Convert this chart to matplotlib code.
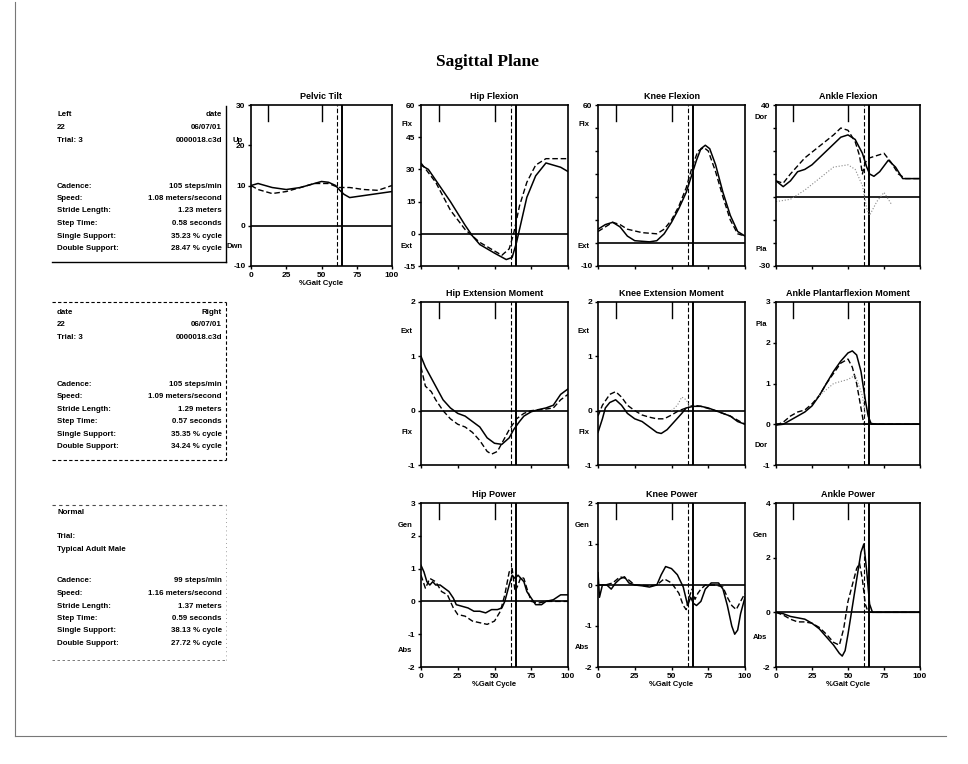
import matplotlib
matplotlib.use("Agg")
import matplotlib.pyplot as plt
from matplotlib.lines import Line2D

plt.rcParams['font.family'] = ['Liberation Sans', 'DejaVu Sans']

W, H = 968, 764

# ---------------- data ----------------
title = "Sagittal Plane"
gait_ticks = [0, 25, 50, 75, 100]
toe_off_left = 64.5
toe_off_norm = 61
event_marks = [12, 50]

# Pelvic Tilt
pel_x_l = [0, 5, 15, 25, 35, 45, 50, 55, 60, 63, 66, 70, 80, 90, 100]
pel_y_l = [10, 10.5, 9.5, 9, 9.5, 10.5, 11, 10.8, 10, 8.8, 7.8, 7, 7.5, 8, 8.5]
pel_x_r = [0, 5, 15, 25, 35, 45, 55, 62, 70, 80, 90, 100]
pel_y_r = [10, 9, 8, 8.5, 9.5, 10.5, 10.5, 9.5, 9.5, 9, 8.8, 10]

# Hip Flexion
hipf_x_l = [0, 5, 10, 20, 30, 35, 40, 50, 58, 62, 65, 68, 72, 78, 85, 90, 95, 100]
hipf_y_l = [32, 30, 25, 15, 4, -1, -5, -9, -12, -11, -4, 5, 17, 27, 33, 32, 31, 29]
hipf_x_r = [0, 10, 20, 30, 40, 50, 55, 60, 63, 67, 72, 78, 85, 92, 100]
hipf_y_r = [33, 24, 11, 2, -4, -8, -10, -7, 0, 13, 24, 32, 35, 35, 35]

# Knee Flexion
knf_x_l = [0, 5, 10, 15, 20, 25, 35, 40, 45, 50, 55, 60, 63, 67, 70, 73, 76, 80, 85, 90, 95, 100]
knf_y_l = [6, 8, 9, 7, 3, 1, 0.5, 1, 4, 9, 15, 22, 28, 36, 41, 42.5, 41, 34, 22, 12, 5, 3]
knf_x_r = [0, 5, 10, 15, 20, 30, 40, 45, 50, 55, 60, 64, 68, 72, 75, 80, 85, 90, 95, 100]
knf_y_r = [5, 7, 9, 8, 6, 4.5, 4, 6, 10, 16, 24, 33, 40, 41.5, 40, 31, 20, 10, 4, 3]

# Ankle Flexion
ankf_x_l = [0, 5, 10, 15, 20, 25, 35, 45, 50, 55, 60, 63, 65, 68, 72, 78, 83, 88, 92, 100]
ankf_y_l = [7, 4.5, 7, 11, 12, 14, 20, 26, 27, 25, 19, 13, 10, 9, 11, 16, 13, 8, 8, 8]
ankf_x_r = [0, 5, 10, 20, 30, 40, 45, 50, 55, 58, 60, 62, 65, 70, 75, 80, 85, 90, 100]
ankf_y_r = [7, 6, 10, 17, 22, 27, 30, 29, 24, 18, 10, 15, 17, 18, 19, 15, 10, 8, 8]
ankf_x_n = [0, 10, 20, 30, 40, 50, 55, 60, 63, 65, 70, 75, 80]
ankf_y_n = [-2, -1, 3, 8, 13, 14, 12, 5, -5, -8, -2, 2, -3]

# Hip Extension Moment
hipm_x_l = [0, 3, 7, 10, 15, 20, 25, 30, 35, 40, 45, 50, 55, 60, 63, 67, 70, 75, 80, 85, 90, 95, 100]
hipm_y_l = [1.0, 0.8, 0.6, 0.45, 0.2, 0.05, -0.05, -0.1, -0.2, -0.3, -0.5, -0.6, -0.62, -0.5,
            -0.35, -0.2, -0.1, -0.02, 0.02, 0.05, 0.1, 0.3, 0.4]
hipm_x_r = [0, 3, 7, 10, 15, 20, 25, 30, 35, 40, 45, 48, 52, 55, 60, 65, 70, 75, 85, 90, 95, 100]
hipm_y_r = [0.8, 0.45, 0.35, 0.2, 0.0, -0.15, -0.25, -0.3, -0.4, -0.55, -0.75, -0.8, -0.75,
            -0.6, -0.35, -0.15, -0.05, 0.0, 0.03, 0.05, 0.2, 0.3]

# Knee Extension Moment
knm_x_l = [0, 3, 5, 8, 12, 16, 20, 25, 30, 35, 40, 43, 47, 52, 57, 60, 65, 70, 75, 80, 85, 90, 95, 100]
knm_y_l = [-0.4, -0.15, 0.05, 0.15, 0.2, 0.1, -0.05, -0.15, -0.2, -0.3, -0.4, -0.42, -0.35,
           -0.2, -0.05, 0.05, 0.08, 0.08, 0.05, 0.0, -0.05, -0.1, -0.2, -0.25]
knm_x_r = [0, 3, 8, 12, 16, 20, 25, 30, 35, 40, 45, 50, 55, 60, 65, 70, 80, 90, 100]
knm_y_r = [-0.1, 0.1, 0.3, 0.35, 0.25, 0.1, 0.0, -0.08, -0.12, -0.15, -0.15, -0.08, 0.0,
           0.05, 0.1, 0.08, 0.0, -0.1, -0.25]
knm_x_n = [50, 54, 57, 60, 63]
knm_y_n = [0.0, 0.1, 0.25, 0.2, 0.05]

# Ankle Plantarflexion Moment
ankm_x_l = [0, 5, 10, 15, 20, 25, 30, 35, 40, 45, 50, 53, 56, 59, 62, 64, 66, 70, 100]
ankm_y_l = [-0.02, 0.0, 0.1, 0.2, 0.3, 0.45, 0.7, 1.0, 1.3, 1.55, 1.75, 1.8, 1.7, 1.3, 0.6,
            0.2, 0.02, 0.0, 0.0]
ankm_x_r = [0, 5, 10, 15, 20, 25, 30, 35, 40, 45, 50, 53, 56, 59, 61, 63, 100]
ankm_y_r = [-0.02, 0.05, 0.2, 0.3, 0.35, 0.5, 0.7, 1.0, 1.25, 1.5, 1.6, 1.4, 1.0, 0.4, 0.0, 0.0, 0.0]
ankm_x_n = [30, 40, 50, 55, 60, 62]
ankm_y_n = [0.7, 1.0, 1.1, 1.2, 0.7, 0.2]

# Hip Power
hipp_x_l = [0, 2, 4, 6, 8, 10, 13, 16, 19, 22, 24, 28, 32, 36, 40, 44, 48, 52, 55, 57, 60, 62,
            64, 66, 68, 70, 72, 75, 78, 82, 85, 90, 95, 100]
hipp_y_l = [1.1, 0.9, 0.6, 0.5, 0.6, 0.5, 0.5, 0.4, 0.3, 0.1, -0.1, -0.15, -0.2, -0.3, -0.3,
            -0.35, -0.25, -0.25, -0.2, 0.0, 0.5, 0.8, 0.7, 0.8, 0.7, 0.6, 0.3, 0.1, -0.1, -0.1,
            0.0, 0.05, 0.2, 0.2]
hipp_x_r = [0, 3, 6, 10, 14, 18, 22, 25, 30, 35, 40, 45, 50, 54, 57, 60, 62, 64, 66, 68, 70,
            72, 75, 80, 85, 100]
hipp_y_r = [0.8, 0.4, 0.7, 0.6, 0.3, 0.2, -0.2, -0.4, -0.45, -0.6, -0.65, -0.7, -0.6, -0.3,
            0.2, 0.9, 1.0, 0.3, 0.5, 0.75, 0.7, 0.4, 0.0, -0.05, 0.0, 0.0]

# Knee Power
knp_x_l = [0, 1, 3, 6, 9, 12, 15, 18, 21, 25, 30, 35, 40, 43, 46, 50, 54, 58, 61, 63, 65, 67,
           70, 73, 77, 82, 85, 88, 91, 93, 95, 97, 100]
knp_y_l = [0.3, -0.3, 0.0, 0.0, -0.1, 0.05, 0.15, 0.2, 0.05, 0.0, -0.02, -0.05, 0.0, 0.25,
           0.45, 0.4, 0.25, -0.05, -0.5, -0.3, -0.45, -0.5, -0.4, -0.1, 0.05, 0.05, -0.1, -0.5,
           -1.0, -1.2, -1.1, -0.7, -0.3]
knp_x_r = [0, 5, 10, 15, 20, 25, 35, 40, 45, 50, 55, 58, 60, 62, 64, 66, 68, 70, 73, 80, 85,
           88, 91, 94, 97, 100]
knp_y_r = [0.0, 0.0, 0.05, 0.2, 0.15, 0.0, -0.02, 0.0, 0.15, 0.05, -0.2, -0.5, -0.6, -0.3,
           -0.1, -0.35, -0.2, -0.1, 0.0, 0.0, -0.05, -0.3, -0.5, -0.6, -0.4, -0.2]

# Ankle Power
ankp_x_l = [0, 5, 10, 15, 20, 25, 30, 35, 40, 44, 46, 48, 50, 53, 56, 59, 61, 63, 65, 67, 100]
ankp_y_l = [0.0, -0.05, -0.15, -0.2, -0.25, -0.4, -0.6, -0.9, -1.2, -1.5, -1.6, -1.4, -0.8,
            0.2, 1.2, 2.2, 2.5, 1.5, 0.3, 0.0, 0.0]
ankp_x_r = [0, 5, 10, 15, 20, 25, 30, 35, 40, 44, 47, 50, 53, 56, 58, 60, 62, 64, 100]
ankp_y_r = [0.0, -0.1, -0.25, -0.35, -0.35, -0.4, -0.55, -0.8, -1.1, -1.2, -0.6, 0.4, 1.0,
            1.6, 1.8, 1.2, 0.3, 0.0, 0.0]

# info boxes
box_left_head = [("Left", "date"), ("22", "06/07/01"), ("Trial: 3", "0000018.c3d")]
box_right_head = [("date", "Right"), ("22", "06/07/01"), ("Trial: 3", "0000018.c3d")]
param_names = ["Cadence:", "Speed:", "Stride Length:", "Step Time:", "Single Support:", "Double Support:"]
left_vals = ["105 steps/min", "1.08 meters/second", "1.23 meters", "0.58 seconds",
             "35.23 % cycle", "28.47 % cycle"]
right_vals = ["105 steps/min", "1.09 meters/second", "1.29 meters", "0.57 seconds",
              "35.35 % cycle", "34.24 % cycle"]
normal_vals = ["99 steps/min", "1.16 meters/second", "1.37 meters", "0.59 seconds",
               "38.13 % cycle", "27.72 % cycle"]

# ---------------- figure ----------------
fig = plt.figure(figsize=(W / 100, H / 100), dpi=100)
fig.patch.set_facecolor('white')

def fx(px):
    return px / W

def fy(py):
    return 1 - py / H

# page border
fig.add_artist(Line2D([fx(15), fx(15)], [fy(2), fy(736)], color='#777777', lw=0.8))
fig.add_artist(Line2D([fx(15), fx(946)], [fy(736), fy(736)], color='#777777', lw=0.8))

fig.text(fx(487), fy(62), title, family=['Liberation Serif', 'DejaVu Serif'],
         fontsize=12.5, fontweight='bold', ha='center', va='center')

TF = 6  # tick font


def panel(x0, y0, x1, y1, name, ylim, yticks, ylabels, utop, ubot, series,
          xlab=False, utop_y=0.88, ubot_y=0.12):
    ax = fig.add_axes([fx(x0), fy(y1), fx(x1 - x0), (y1 - y0) / H])
    ax.set_xlim(0, 100)
    ax.set_ylim(*ylim)
    for s in ax.spines.values():
        s.set_linewidth(1.2)
    ax.set_xticks(gait_ticks)
    ax.set_yticks(yticks)
    ax.set_yticklabels(ylabels, fontsize=TF, fontweight='bold')
    if xlab:
        ax.set_xticklabels([str(t) for t in gait_ticks], fontsize=TF, fontweight='bold')
        ax.set_xlabel("%Gait Cycle", fontsize=5.5, fontweight='bold', labelpad=1)
    else:
        ax.set_xticklabels([])
    ax.tick_params(length=2.5, width=1, pad=1.5)
    ax.set_title(name, fontsize=6.5, fontweight='bold', pad=4)
    ax.axhline(0, color='black', lw=1.2)
    ax.axvline(toe_off_left, color='black', lw=1.4)
    ax.axvline(toe_off_norm, color='black', lw=0.8, ls=(0, (4, 2)))
    for e in event_marks:
        ax.axvline(e, ymin=0.9, ymax=1.0, color='black', lw=1.0)
    ax.text(-0.06, utop_y, utop, transform=ax.transAxes, ha='right', va='center',
            fontsize=5.5, fontweight='bold')
    ax.text(-0.06, ubot_y, ubot, transform=ax.transAxes, ha='right', va='center',
            fontsize=5.5, fontweight='bold')
    for xs, ys, kind in series:
        if kind == 'l':
            ax.plot(xs, ys, color='black', lw=1.1)
        elif kind == 'r':
            ax.plot(xs, ys, color='black', lw=1.0, ls=(0, (4, 2)))
        else:
            ax.plot(xs, ys, color='#888888', lw=0.8, ls=':')
    return ax


C1, C2, C3 = (421, 568), (598, 745), (776, 920)
R1, R2, R3 = (105, 266), (302, 465), (503, 667)

panel(251, 105, 392, 266, "Pelvic Tilt", (-10, 30), [-10, 0, 10, 20, 30],
      ["-10", "0", "10", "20", "30"], "Up", "Dwn",
      [(pel_x_l, pel_y_l, 'l'), (pel_x_r, pel_y_r, 'r')], xlab=True, utop_y=0.78)

panel(C1[0], R1[0], C1[1], R1[1], "Hip Flexion", (-15, 60), [-15, 0, 15, 30, 45, 60],
      ["-15", "0", "15", "30", "45", "60"], "Flx", "Ext",
      [(hipf_x_l, hipf_y_l, 'l'), (hipf_x_r, hipf_y_r, 'r')])

panel(C2[0], R1[0], C2[1], R1[1], "Knee Flexion", (-10, 60), list(range(-10, 61, 10)),
      ["-10", "", "", "", "", "", "", "60"], "Flx", "Ext",
      [(knf_x_l, knf_y_l, 'l'), (knf_x_r, knf_y_r, 'r')])

panel(C3[0], R1[0], C3[1], R1[1], "Ankle Flexion", (-30, 40), list(range(-30, 41, 10)),
      ["-30", "", "", "", "", "", "", "40"], "Dor", "Pla",
      [(ankf_x_l, ankf_y_l, 'l'), (ankf_x_r, ankf_y_r, 'r'), (ankf_x_n, ankf_y_n, 'n')],
      utop_y=0.92, ubot_y=0.1)

panel(C1[0], R2[0], C1[1], R2[1], "Hip Extension Moment", (-1, 2), [-1, 0, 1, 2],
      ["-1", "0", "1", "2"], "Ext", "Flx",
      [(hipm_x_l, hipm_y_l, 'l'), (hipm_x_r, hipm_y_r, 'r')], utop_y=0.82, ubot_y=0.2)

panel(C2[0], R2[0], C2[1], R2[1], "Knee Extension Moment", (-1, 2), [-1, 0, 1, 2],
      ["-1", "0", "1", "2"], "Ext", "Flx",
      [(knm_x_l, knm_y_l, 'l'), (knm_x_r, knm_y_r, 'r'), (knm_x_n, knm_y_n, 'n')],
      utop_y=0.82, ubot_y=0.2)

panel(C3[0], R2[0], C3[1], R2[1], "Ankle Plantarflexion Moment", (-1, 3), [-1, 0, 1, 2, 3],
      ["-1", "0", "1", "2", "3"], "Pla", "Dor",
      [(ankm_x_l, ankm_y_l, 'l'), (ankm_x_r, ankm_y_r, 'r'), (ankm_x_n, ankm_y_n, 'n')],
      utop_y=0.86, ubot_y=0.12)

panel(C1[0], R3[0], C1[1], R3[1], "Hip Power", (-2, 3), [-2, -1, 0, 1, 2, 3],
      ["-2", "-1", "0", "1", "2", "3"], "Gen", "Abs",
      [(hipp_x_l, hipp_y_l, 'l'), (hipp_x_r, hipp_y_r, 'r')], xlab=True,
      utop_y=0.86, ubot_y=0.1)

panel(C2[0], R3[0], C2[1], R3[1], "Knee Power", (-2, 2), [-2, -1, 0, 1, 2],
      ["-2", "-1", "0", "1", "2"], "Gen", "Abs",
      [(knp_x_l, knp_y_l, 'l'), (knp_x_r, knp_y_r, 'r')], xlab=True,
      utop_y=0.86, ubot_y=0.12)

panel(C3[0], R3[0], C3[1], R3[1], "Ankle Power", (-2, 4), [-2, 0, 2, 4],
      ["-2", "0", "2", "4"], "Gen", "Abs",
      [(ankp_x_l, ankp_y_l, 'l'), (ankp_x_r, ankp_y_r, 'r')], xlab=True,
      utop_y=0.8, ubot_y=0.18)

# ---------------- info boxes ----------------
BF = 5.7
LX, RX = 57, 222


def rows(head, y0, vals, yv0, step=12.5):
    for i, (a, b) in enumerate(head):
        y = y0 + i * step
        if a:
            fig.text(fx(LX), fy(y), a, fontsize=BF, fontweight='bold', ha='left', va='center')
        if b:
            fig.text(fx(RX), fy(y), b, fontsize=BF, fontweight='bold', ha='right', va='center')
    for i, (n, v) in enumerate(zip(param_names, vals)):
        y = yv0 + i * step
        fig.text(fx(LX), fy(y), n, fontsize=BF, fontweight='bold', ha='left', va='center')
        fig.text(fx(RX), fy(y), v, fontsize=BF, fontweight='bold', ha='right', va='center')


rows(box_left_head, 115, left_vals, 186)
rows(box_right_head, 312, right_vals, 384)
rows([("Normal", ""), ("", ""), ("Trial:", ""), ("Typical Adult Male", "")], 512,
     normal_vals, 581)

# box lines
def seg(x0, y0, x1, y1, **kw):
    fig.add_artist(Line2D([fx(x0), fx(x1)], [fy(y0), fy(y1)], color='black', **kw))

seg(226, 106, 226, 262, lw=1.0)
seg(52, 262, 226, 262, lw=1.0)
seg(52, 302, 226, 302, lw=0.8, ls=(0, (3, 2)))
seg(226, 302, 226, 460, lw=0.8, ls=(0, (3, 2)))
seg(52, 460, 226, 460, lw=0.8, ls=(0, (3, 2)))
seg(52, 505, 226, 505, lw=0.8, ls=(0, (3, 3)), alpha=0.7)
seg(226, 505, 226, 660, lw=0.6, ls=(0, (1, 4)), alpha=0.5)
seg(52, 660, 226, 660, lw=0.6, ls=(0, (3, 3)), alpha=0.6)

fig.savefig("out.png", dpi=100)
